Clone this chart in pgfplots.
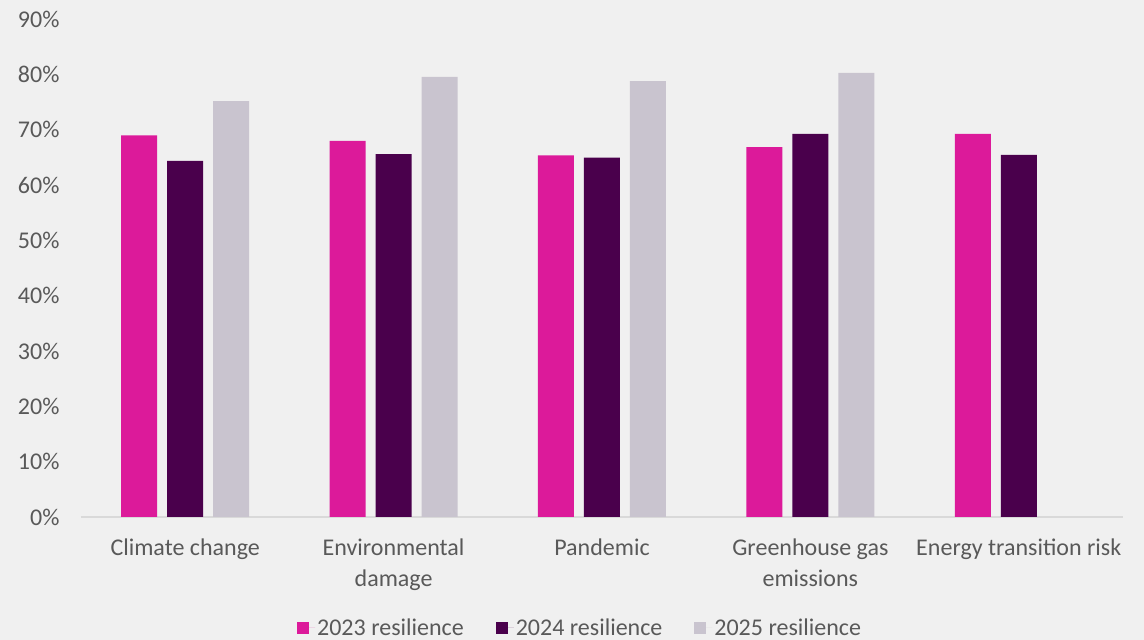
\documentclass[border=0pt]{standalone}
\usepackage{pgfplots}
\pgfplotsset{compat=1.18}
\usepackage{fontspec}
\setmainfont{Carlito}
\definecolor{bg}{HTML}{F0F0F0}
\definecolor{txt}{HTML}{595959}
\definecolor{axl}{HTML}{D9D9D9}
\definecolor{cA}{HTML}{DC1A9A}
\definecolor{cB}{HTML}{4A004C}
\definecolor{cC}{HTML}{C9C4CF}
\pgfplotstableread{
x y
0 69.0
1 68.0
2 65.4
3 66.9
4 69.3
}\dataA
\pgfplotstableread{
x y
0 64.4
1 65.6
2 65.0
3 69.3
4 65.5
}\dataB
\pgfplotstableread{
x y
0 75.2
1 79.6
2 78.8
3 80.3
}\dataC
\begin{document}
\begin{tikzpicture}[x=1pt,y=1pt]
\fill[bg] (0,0) rectangle (1144,640);
\begin{axis}[
  at={(81pt,123pt)}, anchor=south west,
  scale only axis, width=1042pt, height=497.7pt,
  xmin=-0.5, xmax=4.5, ymin=0, ymax=90,
  ybar=10pt, bar width=36pt,
  axis lines*=left,
  y axis line style={draw=none},
  x axis line style={draw=axl, line width=1.5pt},
  ytick={0,10,...,90},
  yticklabel={\pgfmathprintnumber{\tick}\%},
  xtick={0,1,2,3,4},
  xticklabels={Climate change, Environmental\\damage, Pandemic, Greenhouse gas\\emissions, Energy transition risk},
  major tick length=0pt,
  tick label style={font=\fontsize{24}{29}\selectfont, text=txt},
  /pgf/number format/assume math mode=true,
  xticklabel style={align=center, anchor=north, yshift=-18pt, font=\fontsize{24}{31}\selectfont},
  yticklabel style={anchor=east, xshift=-18pt},
  legend columns=3,
  legend style={at={(axis description cs:0.479,-0.223)}, anchor=center, draw=none, fill=none,
    font=\fontsize{24}{29}\selectfont, text=txt,
    /tikz/every even column/.append style={column sep=30pt}},
  legend image code/.code={\fill[#1] (0pt,-6pt) rectangle (12pt,6pt); \path (0pt,0pt) -- (18pt,0pt);},
]
\addplot[fill=cA, draw=none] table[x=x,y=y] {\dataA};
\addplot[fill=cB, draw=none] table[x=x,y=y] {\dataB};
\addplot[fill=cC, draw=none] table[x=x,y=y] {\dataC};
\legend{2023 resilience, 2024 resilience, 2025 resilience}
\end{axis}
\pgfresetboundingbox
\path (0,0) rectangle (1144,640);
\end{tikzpicture}
\end{document}
